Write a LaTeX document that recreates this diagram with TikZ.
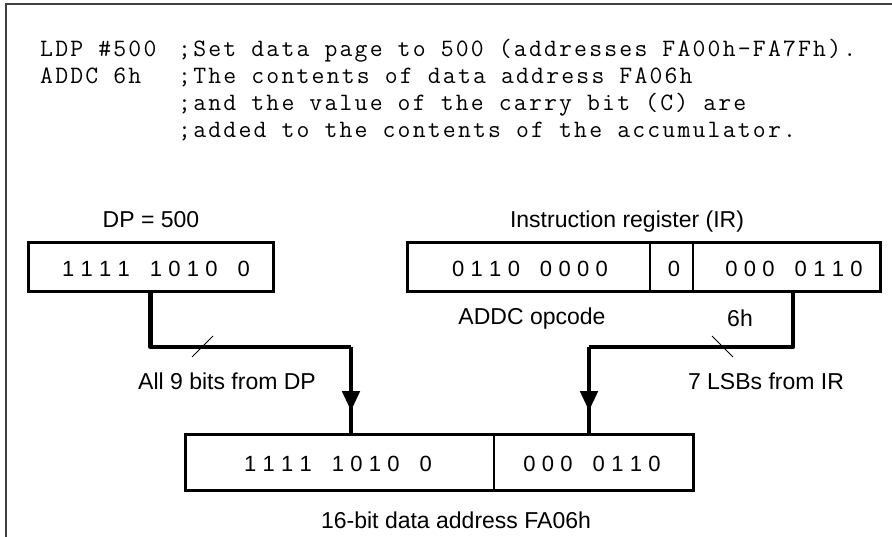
\documentclass[tikz,border=0pt]{standalone}
\usepackage{fontspec}
\setmainfont{Liberation Sans}
\newfontfamily\codefont[LetterSpace=8.8]{Latin Modern Mono}
\usetikzlibrary{arrows.meta,decorations.markings,calc}
\newcommand{\bsp}{\hspace{6.3pt}}
\newcommand{\bgp}{\hspace{20pt}}
\tikzset{
  frameline/.style={draw=black!75, line width=1.5pt},
  codetext/.style={anchor=base west, inner sep=0pt, font=\codefont\fontsize{25}{29}\selectfont},
  lbl/.style={anchor=base, inner sep=0pt, font=\fontsize{23}{27}\selectfont},
  bits/.style={anchor=base, inner sep=0pt, font=\fontsize{22}{26}\selectfont},
  regbox/.style={draw, line width=3pt, inner sep=0pt},
  divider/.style={line width=1.3pt},
  bus/.style={line width=4.5pt, line join=round},
  slashmark/.style={line width=1pt},
  midarrow/.style={postaction={decorate}, decoration={markings,
      mark=at position #1 with {\arrow{Triangle[width=17pt,length=20pt]}}}}
}
\begin{document}
\begin{tikzpicture}[x=1pt,y=-1pt]
\useasboundingbox (0,0) rectangle (892,537);
% frame
\draw[frameline] (892,4) -- (6,4) -- (6,537);
% code
\node[codetext] (c1a) at (40,57) {LDP \#500};
\node[codetext] (c1b) at (178,57) {;Set data page to 500 (addresses FA00h-FA7Fh).};
\node[codetext] (c2a) at (40,84) {ADDC 6h};
\node[codetext] (c2b) at (178,84) {;The contents of data address FA06h};
\node[codetext] (c3b) at (178,111) {;and the value of the carry bit (C) are};
\node[codetext] (c4b) at (178,138) {;added to the contents of the accumulator.};
% labels
\node[lbl] (dplbl) at (151,228) {DP = 500};
\node[lbl] (irlbl) at (627,228) {Instruction register (IR)};
% DP register
\node[regbox, minimum width=245pt, minimum height=49pt] (dp) at (150.5,267.5) {};
\node[bits] (dpbits) at (156,277) {1\bsp 1\bsp 1\bsp 1\bgp 1\bsp 0\bsp 1\bsp 0\bgp 0};
% IR register
\node[regbox, minimum width=473pt, minimum height=49pt] (ir) at (643.5,267.5) {};
\draw[divider] (650,243) -- (650,292);
\draw[divider] (693,243) -- (693,292);
\node[bits] (ir1) at (530,277) {0\bsp 1\bsp 1\bsp 0\bgp 0\bsp 0\bsp 0\bsp 0};
\node[bits] (ir2) at (674,277) {0};
\node[bits] (ir3) at (794,277) {0\bsp 0\bsp 0\bgp 0\bsp 1\bsp 1\bsp 0};
\coordinate (irtap) at (793,292);
\node[lbl] (opc) at (532,325) {ADDC opcode};
\node[lbl] (sixh) at (740,327) {6h};
% address register
\node[regbox, minimum width=508pt, minimum height=56pt] (addr) at (439,462) {};
\draw[divider] (494,434) -- (494,490);
\node[bits] (ad1) at (338,471) {1\bsp 1\bsp 1\bsp 1\bgp 1\bsp 0\bsp 1\bsp 0\bgp 0};
\node[bits] (ad2) at (592,471) {0\bsp 0\bsp 0\bgp 0\bsp 1\bsp 1\bsp 0};
\node[lbl] (adlbl) at (456,528) {16-bit data address FA06h};
% buses
\coordinate (dpj) at (351,347);
\coordinate (irj) at (589,347);
\draw[bus] (dp.south) |- (dpj);
\draw[bus, midarrow=0.75] (dpj) -- (dpj |- addr.north);
\draw[bus] (irtap) |- (irj);
\draw[bus, midarrow=0.75] (irj) -- (irj |- addr.north);
% slashes
\coordinate (s1a) at (192,357);
\coordinate (s1b) at (213,336);
\draw[slashmark] (s1a) -- (s1b);
\coordinate (s2a) at (712,336);
\coordinate (s2b) at (733,357);
\draw[slashmark] (s2a) -- (s2b);
\node[lbl] (dpbus) at (227,389) {All 9 bits from DP};
\node[lbl] (irbus) at (766,389) {7 LSBs from IR};
\end{tikzpicture}
\end{document}
